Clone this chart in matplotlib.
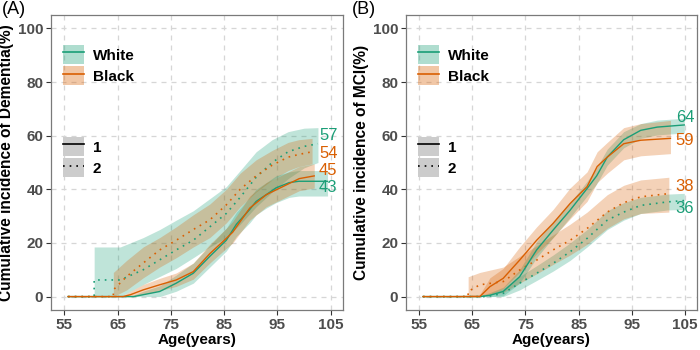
import matplotlib
matplotlib.use("Agg")
import matplotlib.pyplot as plt
from matplotlib.patches import Patch
from matplotlib.lines import Line2D

plt.rcParams['font.family'] = ['Liberation Sans', 'DejaVu Sans']

# ---------------- Panel A: Dementia ----------------
ageA_w1 = [55.7, 68.0, 69.8, 72.9, 76.0, 79.2, 82.3, 85.4, 87.3, 89.8, 91.0, 92.9, 94.7, 97.2, 99.0, 104.4]
valA_w1 = [0, 0, 0.7, 1.9, 5.0, 8.7, 15.0, 21.0, 27.0, 32.5, 35.5, 38.0, 40.5, 42.5, 43.0, 43.0]
lowA_w1 = [0, 0, 0, 0, 2.0, 5.0, 11.0, 17.0, 22.5, 27.5, 30.5, 33.0, 35.0, 37.0, 37.5, 37.5]
upA_w1 = [0, 0.5, 2.0, 4.0, 8.0, 12.5, 19.0, 25.5, 31.5, 37.0, 40.0, 42.5, 45.0, 46.5, 47.0, 47.0]

ageA_b1 = [55.7, 66.0, 67.4, 69.8, 72.9, 76.0, 79.2, 82.3, 85.4, 86.6, 89.8, 92.9, 96.0, 99.1, 101.9]
valA_b1 = [0, 0, 0.7, 2.5, 4.4, 6.2, 9.3, 16.0, 21.7, 24.0, 33.0, 38.0, 41.0, 44.0, 45.0]
lowA_b1 = [0, 0, 0, 0.8, 2.2, 3.8, 6.5, 12.5, 18.0, 20.0, 28.5, 33.5, 36.5, 39.5, 40.5]
upA_b1 = [0, 0.5, 2.0, 4.5, 6.8, 8.8, 12.5, 19.5, 25.5, 28.0, 37.5, 42.5, 45.5, 48.5, 49.5]

ageA_w2 = [55.7, 60.6, 60.6, 65.5, 69.8, 72.9, 76.0, 79.2, 82.3, 85.4, 88.0, 91.0, 94.0, 97.0, 100.0, 102.6]
valA_w2 = [0, 0, 6.2, 6.2, 10.0, 13.7, 17.4, 21.0, 26.0, 31.0, 37.0, 44.5, 50.0, 54.0, 56.0, 57.0]
lowA_w2 = [0, 0, 0, 0, 4.5, 7.5, 10.5, 14.5, 18.5, 22.0, 27.0, 33.5, 39.0, 44.0, 48.0, 50.0]
upA_w2 = [0, 0, 18.5, 18.5, 22.0, 25.0, 28.5, 32.0, 36.5, 41.0, 47.0, 54.0, 58.5, 61.5, 62.8, 63.0]

ageA_b2 = [55.7, 64.2, 64.2, 66.7, 69.8, 72.9, 76.0, 79.2, 82.3, 85.4, 88.0, 91.0, 94.0, 97.0, 99.0, 101.5]
valA_b2 = [0, 0, 2.5, 7.5, 12.5, 17.4, 21.0, 25.0, 28.6, 34.2, 40.0, 45.0, 49.0, 52.0, 53.0, 54.0]
lowA_b2 = [0, 0, 0, 2.5, 7.0, 11.0, 14.5, 18.5, 22.0, 27.5, 33.5, 39.0, 43.5, 47.0, 48.5, 49.5]
upA_b2 = [0, 0, 9.0, 13.5, 18.5, 22.0, 26.0, 30.5, 34.5, 40.0, 46.0, 51.0, 54.5, 57.5, 58.5, 59.0]

# ---------------- Panel B: MCI ----------------
ageB_w1 = [55.7, 66.4, 68.3, 70.8, 73.9, 77.1, 80.2, 83.4, 86.6, 88.4, 90.4, 93.5, 96.7, 99.8, 104.9]
valB_w1 = [0, 0, 0.5, 1.9, 7.4, 17.4, 24.8, 32.2, 40.3, 45.0, 52.0, 58.5, 62.0, 63.2, 64.0]
lowB_w1 = [0, 0, 0, 0.3, 5.0, 14.5, 22.0, 29.5, 37.5, 42.0, 49.0, 55.5, 59.0, 60.3, 61.0]
upB_w1 = [0, 0.3, 1.5, 3.5, 10.0, 20.5, 28.0, 35.0, 43.0, 48.0, 55.0, 61.5, 64.5, 65.8, 66.5]

ageB_b1 = [55.7, 66.4, 68.3, 70.8, 73.9, 77.1, 80.2, 83.4, 86.6, 88.5, 90.4, 93.5, 96.7, 102.3]
valB_b1 = [0, 0, 3.7, 6.8, 13.6, 21.0, 27.3, 34.7, 41.0, 48.5, 52.0, 57.0, 58.3, 59.0]
lowB_b1 = [0, 0, 0.8, 3.0, 9.0, 16.0, 22.0, 29.0, 35.5, 42.5, 46.0, 51.0, 52.5, 53.3]
upB_b1 = [0, 0.8, 7.0, 10.5, 18.5, 26.0, 32.5, 40.5, 46.5, 54.0, 57.5, 63.0, 64.5, 65.7]

ageB_w2 = [55.7, 67.7, 70.8, 73.9, 77.1, 80.2, 83.4, 86.6, 90.4, 93.5, 96.7, 101.7, 104.9]
valB_w2 = [0, 0, 1.2, 5.0, 8.7, 12.4, 16.7, 21.7, 28.5, 31.5, 34.0, 35.3, 35.8]
lowB_w2 = [0, 0, 0, 2.5, 6.0, 9.5, 13.5, 18.5, 25.0, 28.5, 31.0, 32.3, 32.5]
upB_w2 = [0, 0.5, 3.0, 7.5, 11.5, 15.5, 20.0, 25.0, 32.0, 35.0, 37.0, 38.2, 38.5]

ageB_b2 = [55.7, 64.2, 64.2, 66.4, 70.8, 73.9, 77.1, 80.2, 83.4, 86.6, 90.4, 93.5, 96.7, 102.0]
valB_b2 = [0, 0, 1.9, 4.4, 5.6, 9.9, 13.6, 17.4, 21.0, 25.4, 31.5, 35.0, 37.2, 38.4]
lowB_b2 = [0, 0, 0, 0.5, 1.5, 5.0, 8.5, 12.0, 15.5, 19.5, 25.5, 29.0, 31.0, 31.5]
upB_b2 = [0, 0, 7.4, 9.0, 11.0, 15.0, 19.0, 23.0, 27.0, 31.5, 38.0, 41.5, 43.5, 44.5]

race_labels = ["White", "Black"]
type_labels = ["1", "2"]
end_labels_A = ["57", "54", "45", "43"]
end_labels_B = ["64", "59", "38", "36"]
x_ticks = [55, 65, 75, 85, 95, 105]
y_ticks = [0, 20, 40, 60, 80, 100]

GREEN = "#1B9E77"
ORANGE = "#D95F02"
DOT = (0, (1, 3))

fig = plt.figure(figsize=(7, 3.5), dpi=100)
axA = fig.add_axes([51/700, 40/350, 292/700, 295/350])
axB = fig.add_axes([406/700, 40/350, 291/700, 295/350])


def style(ax, ylabel):
    ax.set_xlim(52.5, 107.3)
    ax.set_ylim(-5, 105)
    ax.set_xticks(x_ticks)
    ax.set_yticks(y_ticks)
    ax.grid(True, color="#d6d6d6", linestyle=(0, (4, 4)), linewidth=0.9)
    ax.set_axisbelow(True)
    for s in ax.spines.values():
        s.set_color("#7a7a7a")
        s.set_linewidth(0.9)
    ax.tick_params(length=3.5, width=0.8, color="#333333", labelsize=11,
                   labelcolor="#4D4D4D", pad=2)
    for t in ax.get_xticklabels() + ax.get_yticklabels():
        t.set_fontweight("bold")
    ax.set_xlabel("Age(years)", fontsize=11, fontweight="bold", labelpad=1)
    ax.set_ylabel(ylabel, fontsize=11.2, fontweight="bold", labelpad=3)


def band(ax, x, lo, hi, c):
    ax.fill_between(x, lo, hi, color=c, alpha=0.28, linewidth=0)


LEG_KW = dict(loc="upper left", frameon=False, borderpad=0, borderaxespad=0,
              handlelength=1.35, handleheight=1.55, handletextpad=0.6,
              labelspacing=0.14, prop={"weight": "bold", "size": 11})


def legends(ax):
    h1 = [(Patch(facecolor=GREEN, alpha=0.35, edgecolor="none"), Line2D([], [], color=GREEN, lw=1.2)),
          (Patch(facecolor=ORANGE, alpha=0.35, edgecolor="none"), Line2D([], [], color=ORANGE, lw=1.2))]
    leg1 = ax.legend(h1, race_labels, bbox_to_anchor=(12/292, 1 - 30/295), **LEG_KW)
    ax.add_artist(leg1)
    h2 = [(Patch(facecolor="#cccccc", edgecolor="none"), Line2D([], [], color="black", lw=1.2)),
          (Patch(facecolor="#cccccc", edgecolor="none"), Line2D([], [], color="black", lw=1.2, linestyle=DOT))]
    ax.legend(h2, type_labels, bbox_to_anchor=(12/292, 1 - 122/295), **LEG_KW)


# Panel A
band(axA, ageA_w2, lowA_w2, upA_w2, GREEN)
band(axA, ageA_b2, lowA_b2, upA_b2, ORANGE)
band(axA, ageA_w1, lowA_w1, upA_w1, GREEN)
band(axA, ageA_b1, lowA_b1, upA_b1, ORANGE)
axA.plot(ageA_w2, valA_w2, color=GREEN, lw=1.2, linestyle=DOT)
axA.plot(ageA_b2, valA_b2, color=ORANGE, lw=1.2, linestyle=DOT)
axA.plot(ageA_w1, valA_w1, color=GREEN, lw=1.0)
axA.plot(ageA_b1, valA_b1, color=ORANGE, lw=1.0)
ends_A = [(valA_w2[-1], 3.0, GREEN), (valA_b2[-1], -0.5, ORANGE),
          (valA_b1[-1], 2.0, ORANGE), (valA_w1[-1], -2.5, GREEN)]
for lab, (v, off, c) in zip(end_labels_A, ends_A):
    axA.text(102.8, v + off, lab, color=c, fontsize=12, ha="left", va="center")
style(axA, "Cumulative incidence of Dementia(%)")
legends(axA)

# Panel B
band(axB, ageB_w2, lowB_w2, upB_w2, GREEN)
band(axB, ageB_b2, lowB_b2, upB_b2, ORANGE)
band(axB, ageB_w1, lowB_w1, upB_w1, GREEN)
band(axB, ageB_b1, lowB_b1, upB_b1, ORANGE)
axB.plot(ageB_w2, valB_w2, color=GREEN, lw=1.2, linestyle=DOT)
axB.plot(ageB_b2, valB_b2, color=ORANGE, lw=1.2, linestyle=DOT)
axB.plot(ageB_w1, valB_w1, color=GREEN, lw=1.0)
axB.plot(ageB_b1, valB_b1, color=ORANGE, lw=1.0)
ends_B = [(valB_w1[-1], 2.9, GREEN), (valB_b1[-1], -0.7, ORANGE),
          (valB_b2[-1], 2.5, ORANGE), (valB_w2[-1], -2.8, GREEN)]
for lab, (v, off, c) in zip(end_labels_B, ends_B):
    axB.text(103.3, v + off, lab, color=c, fontsize=12, ha="left", va="center")
style(axB, "Cumulative incidence of MCI(%)")
legends(axB)

fig.text(0.002, 0.998, "(A)", fontsize=13, ha="left", va="top")
fig.text(352/700, 0.998, "(B)", fontsize=13, ha="left", va="top")

fig.savefig("out.png", dpi=100)
